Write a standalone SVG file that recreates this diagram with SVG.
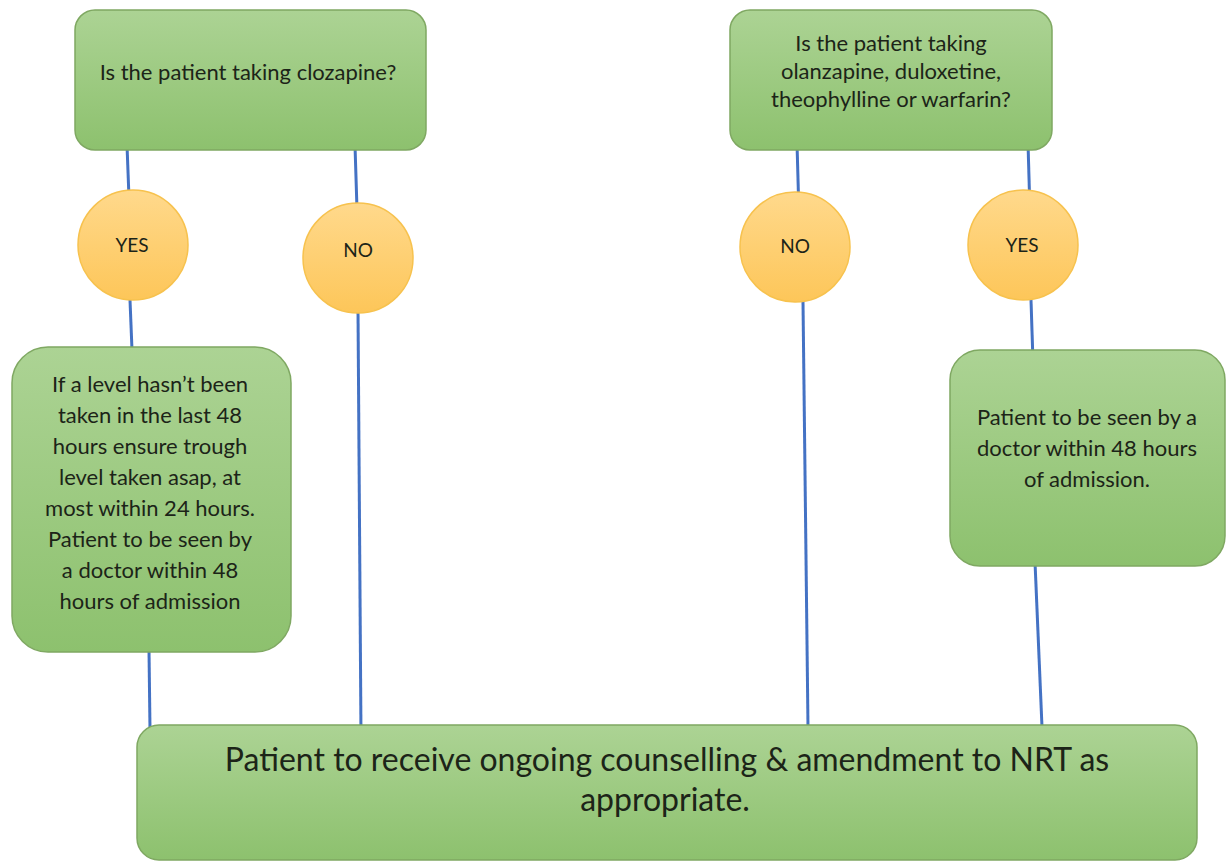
<svg xmlns="http://www.w3.org/2000/svg" width="1226" height="862" viewBox="0 0 1226 862">
<defs>
<linearGradient id="g" x1="0" y1="0" x2="0" y2="1"><stop offset="0" stop-color="#acd394"/><stop offset="1" stop-color="#8dc16e"/></linearGradient>
<linearGradient id="o" x1="0" y1="0" x2="0" y2="1"><stop offset="0" stop-color="#ffd98c"/><stop offset="1" stop-color="#fdc659"/></linearGradient>
<style>
.box{fill:url(#g);stroke:#7fa862;stroke-width:1.5}
.circ{fill:url(#o);stroke:#f7c24e;stroke-width:1.5}
.t{font-family:Lato,"Open Sans",sans-serif;font-size:22px;fill:#1c2418;text-anchor:middle}
.s{font-size:19px}
.big{font-size:32px}
.c{stroke:#4472c4;stroke-width:3;fill:none}
</style>
</defs>
<rect width="1226" height="862" fill="#ffffff"/>
<g id="connectors">
<line class="c" x1="127" y1="145" x2="129" y2="198"/>
<line class="c" x1="130" y1="300" x2="132" y2="350"/>
<line class="c" x1="355" y1="145" x2="357" y2="210"/>
<line class="c" x1="358" y1="310" x2="361" y2="735"/>
<line class="c" x1="797" y1="143" x2="799" y2="215"/>
<line class="c" x1="803" y1="302" x2="808" y2="727"/>
<line class="c" x1="1028" y1="143" x2="1030" y2="212"/>
<line class="c" x1="1031" y1="300" x2="1033" y2="362"/>
<line class="c" x1="149" y1="650" x2="150" y2="730"/>
<line class="c" x1="1035" y1="562" x2="1042" y2="727"/>
</g>
<g id="q1">
<rect class="box" x="75" y="10" width="351" height="140" rx="20"/>
<text class="t" x="248" y="80">Is the patient taking clozapine?</text>
</g>
<g id="q2">
<rect class="box" x="730" y="10" width="322" height="140" rx="20"/>
<text class="t" x="891" y="51">Is the patient taking</text>
<text class="t" x="891" y="79">olanzapine, duloxetine,</text>
<text class="t" x="891" y="107">theophylline or warfarin?</text>
</g>
<g id="yes1">
<circle class="circ" cx="133" cy="245" r="55"/>
<text class="t s" x="132" y="252">YES</text>
</g>
<g id="no1">
<circle class="circ" cx="358" cy="258" r="55"/>
<text class="t s" x="358" y="257">NO</text>
</g>
<g id="no2">
<circle class="circ" cx="795" cy="247" r="55"/>
<text class="t s" x="795" y="253">NO</text>
</g>
<g id="yes2">
<circle class="circ" cx="1023" cy="245" r="55"/>
<text class="t s" x="1022" y="252">YES</text>
</g>
<g id="a1">
<rect class="box" x="12" y="347" width="279" height="305" rx="36"/>
<text class="t" x="150" y="392">If a level hasn’t been</text>
<text class="t" x="150" y="423">taken in the last 48</text>
<text class="t" x="150" y="454">hours ensure trough</text>
<text class="t" x="150" y="485">level taken asap, at</text>
<text class="t" x="150" y="516">most within 24 hours.</text>
<text class="t" x="150" y="547">Patient to be seen by</text>
<text class="t" x="150" y="578">a doctor within 48</text>
<text class="t" x="150" y="609">hours of admission</text>
</g>
<g id="a2">
<rect class="box" x="950" y="350" width="275" height="216" rx="30"/>
<text class="t" x="1087" y="425">Patient to be seen by a</text>
<text class="t" x="1087" y="456">doctor within 48 hours</text>
<text class="t" x="1087" y="487">of admission.</text>
</g>
<g id="end">
<rect class="box" x="137" y="725" width="1060" height="135" rx="22"/>
<text class="t big" x="667" y="771">Patient to receive ongoing counselling &amp; amendment to NRT as</text>
<text class="t big" x="665" y="811">appropriate.</text>
</g>
</svg>
